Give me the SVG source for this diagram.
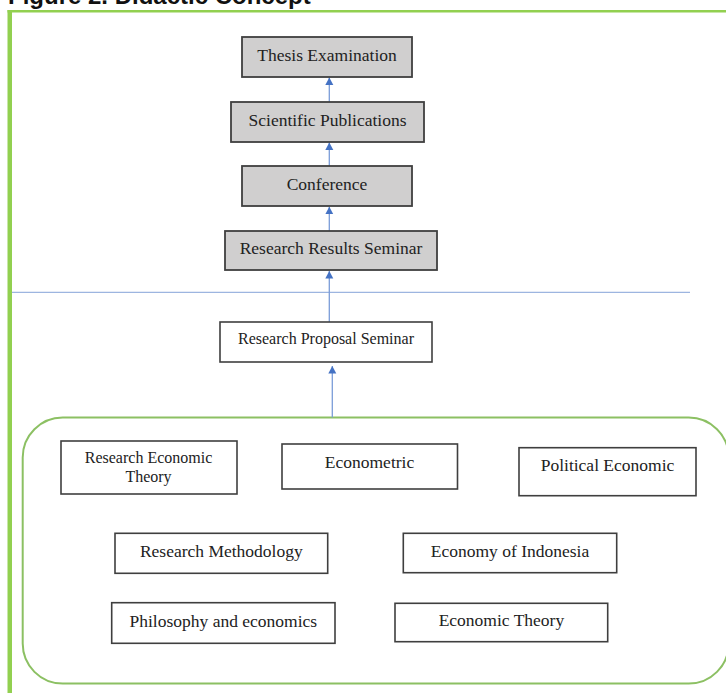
<svg xmlns="http://www.w3.org/2000/svg" width="726" height="693" viewBox="0 0 726 693">
<style>
.title{font-family:"Liberation Sans",Arial,sans-serif;font-weight:bold;font-size:24px;fill:#111}
.box{fill:#ffffff;stroke:#3f3f3f;stroke-width:1.6}
.gbox{fill:#d0cfcf;stroke:#3f3f3f;stroke-width:1.8}
.t{font-family:"Liberation Serif","Times New Roman",serif;font-size:17.5px;fill:#222;text-anchor:middle}
.ts{font-size:16px}
.conn{stroke:#7b9cd8;stroke-width:1.3;fill:none;marker-end:url(#ah)}
</style>
<defs>
<marker id="ah" markerUnits="userSpaceOnUse" markerWidth="9" markerHeight="9" refX="7.5" refY="4" orient="auto">
<path d="M0,0 L7.5,4 L0,8 z" fill="#4472c4"/>
</marker>
</defs>
<rect width="726" height="693" fill="#ffffff"/>
<text class="title" x="8" y="4">Figure 2. Didactic Concept</text>
<g id="frame">
<rect x="7.5" y="10" width="4.5" height="683" fill="#92d050"/>
<rect x="7.5" y="10" width="718.5" height="2.5" fill="#92d050"/>
</g>
<line id="divider" x1="12" y1="292.3" x2="690" y2="292.3" stroke="#9db5e0" stroke-width="1.3"/>
<g id="courses-group">
<rect x="22.7" y="417.6" width="706" height="266" rx="40" ry="40" fill="none" stroke="#8cc063" stroke-width="2"/>
</g>
<g id="connectors">
<line class="conn" x1="329.3" y1="102" x2="329.3" y2="77.5"/>
<line class="conn" x1="329.3" y1="166" x2="329.3" y2="142.5"/>
<line class="conn" x1="329.3" y1="231" x2="329.3" y2="206.7"/>
<line class="conn" x1="329.3" y1="322" x2="329.3" y2="271"/>
<line class="conn" x1="332.3" y1="417.6" x2="332.3" y2="366"/>
</g>
<g id="thesis-examination">
<rect class="gbox" x="242" y="37" width="170" height="40"/>
<text class="t" x="327" y="61">Thesis Examination</text>
</g>
<g id="scientific-publications">
<rect class="gbox" x="231" y="102" width="193" height="40"/>
<text class="t" x="327.5" y="126">Scientific Publications</text>
</g>
<g id="conference">
<rect class="gbox" x="242" y="166" width="170" height="40"/>
<text class="t" x="327" y="190">Conference</text>
</g>
<g id="research-results-seminar">
<rect class="gbox" x="225" y="231" width="212" height="39"/>
<text class="t" x="331" y="254">Research Results Seminar</text>
</g>
<g id="research-proposal-seminar">
<rect class="box" x="220" y="322" width="212" height="40"/>
<text class="t ts" x="326" y="344">Research Proposal Seminar</text>
</g>
<g id="research-economic-theory">
<rect class="box" x="61" y="441" width="176" height="53"/>
<text class="t ts" x="148.5" y="463">Research Economic</text>
<text class="t ts" x="148.5" y="481.5">Theory</text>
</g>
<g id="econometric">
<rect class="box" x="282" y="444" width="175.5" height="45"/>
<text class="t" x="369.5" y="467.5">Econometric</text>
</g>
<g id="political-economic">
<rect class="box" x="519" y="447.7" width="177" height="48"/>
<text class="t" x="607.5" y="471">Political Economic</text>
</g>
<g id="research-methodology">
<rect class="box" x="115" y="533.3" width="212.7" height="40"/>
<text class="t" x="221.3" y="557.3">Research Methodology</text>
</g>
<g id="economy-of-indonesia">
<rect class="box" x="403.3" y="533.3" width="213.4" height="39.4"/>
<text class="t" x="510" y="557.3">Economy of Indonesia</text>
</g>
<g id="philosophy-and-economics">
<rect class="box" x="111.7" y="602.7" width="223.3" height="40.6"/>
<text class="t" x="223.3" y="626.7">Philosophy and economics</text>
</g>
<g id="economic-theory">
<rect class="box" x="395" y="603.3" width="212.7" height="38.4"/>
<text class="t" x="501.4" y="626">Economic Theory</text>
</g>
</svg>
